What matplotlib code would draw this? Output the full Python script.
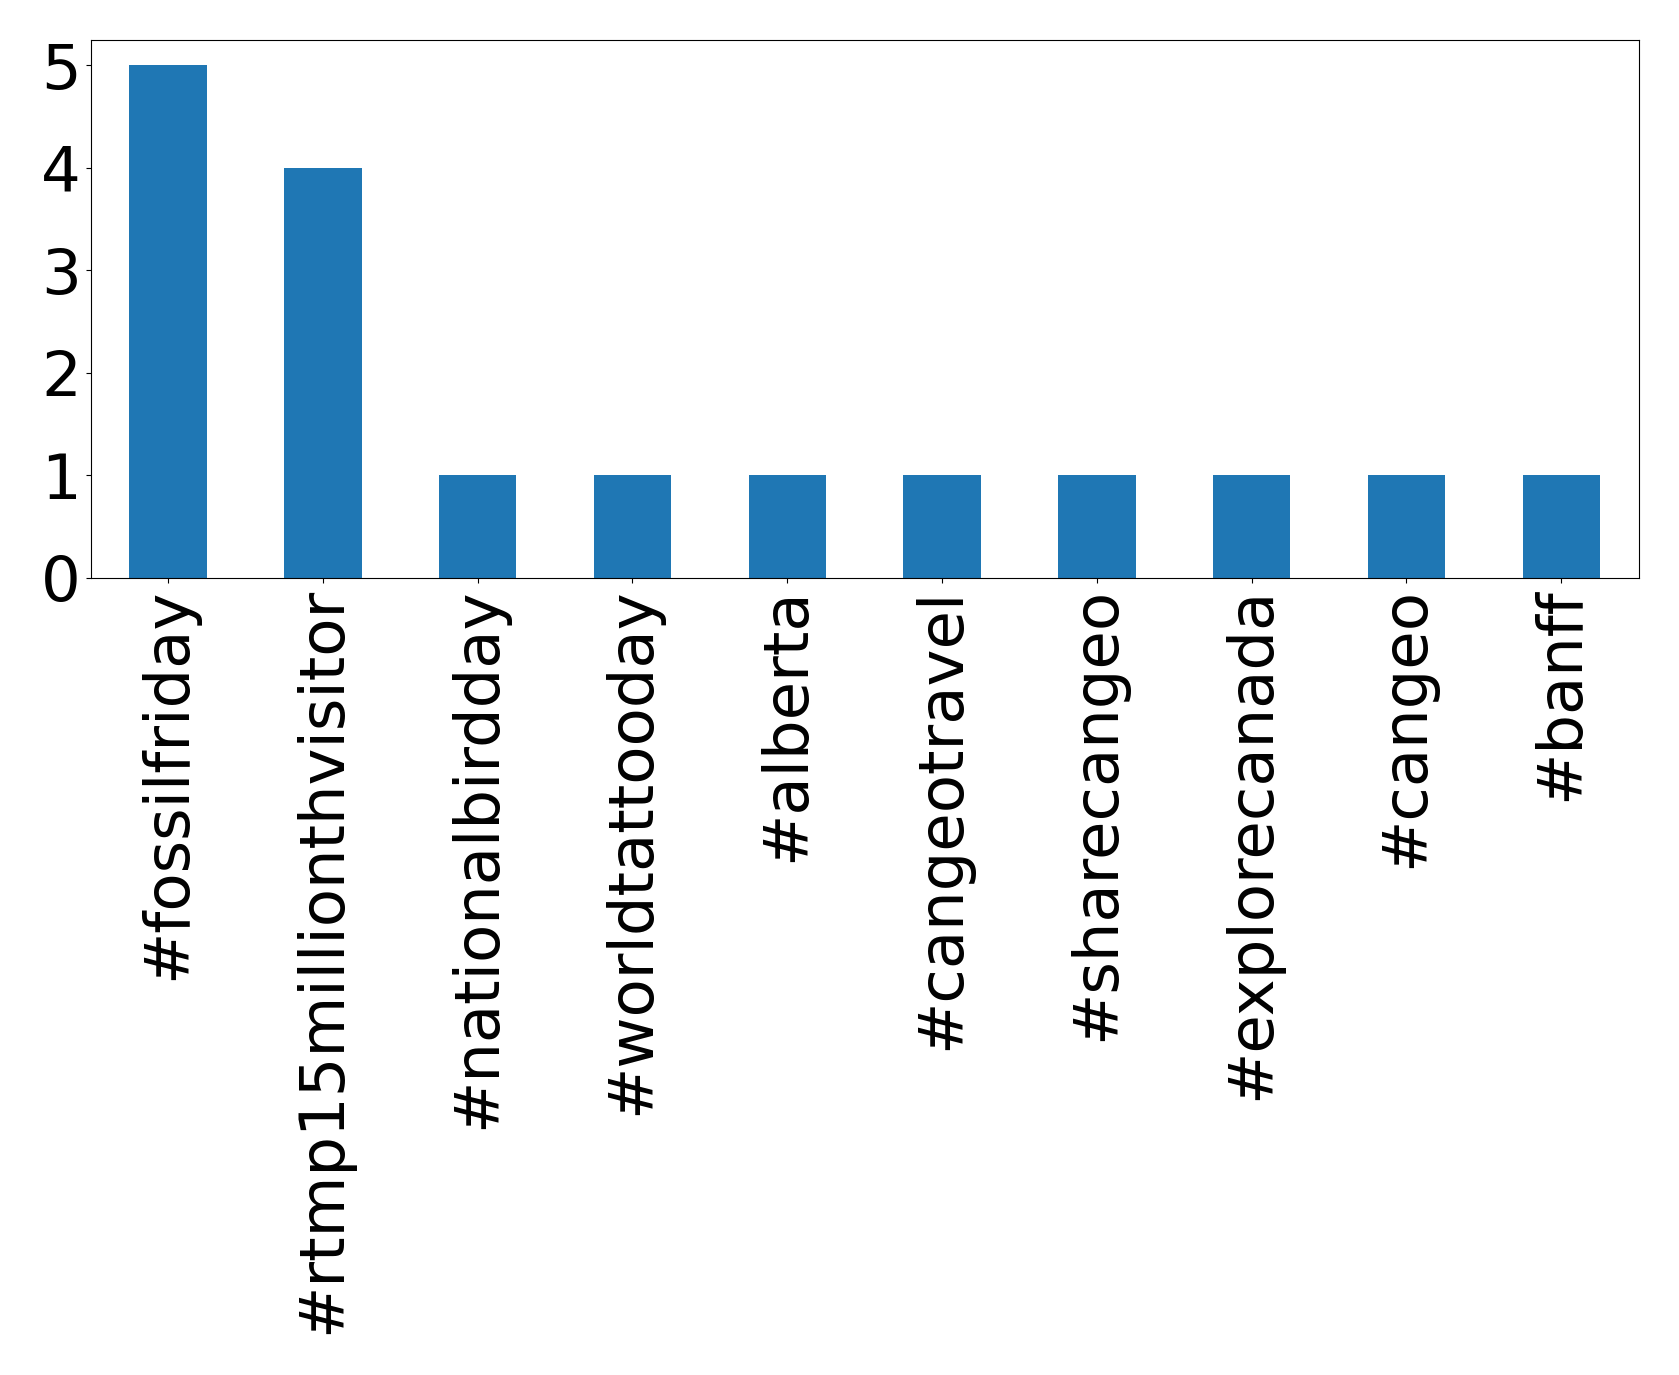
import matplotlib
matplotlib.use("Agg")
import matplotlib.pyplot as plt
import pandas as pd

# hashtag counts
HASHTAGS = [
    "#fossilfriday", "#rtmp15millionthvisitor", "#nationalbirdday",
    "#worldtattooday", "#alberta", "#cangeotravel", "#sharecangeo",
    "#explorecanada", "#cangeo", "#banff",
]
COUNTS = [5, 4, 1, 1, 1, 1, 1, 1, 1, 1]

counts = pd.Series(COUNTS, index=HASHTAGS)

fig = plt.figure(figsize=(16.79, 13.75), dpi=100)
ax = fig.add_axes([0.054, 0.580, 0.922, 0.391])
counts.plot(kind="bar", ax=ax, color="#1f77b4", fontsize=45)
ax.set_yticks([0, 1, 2, 3, 4, 5])

fig.savefig("out.png", dpi=100)
